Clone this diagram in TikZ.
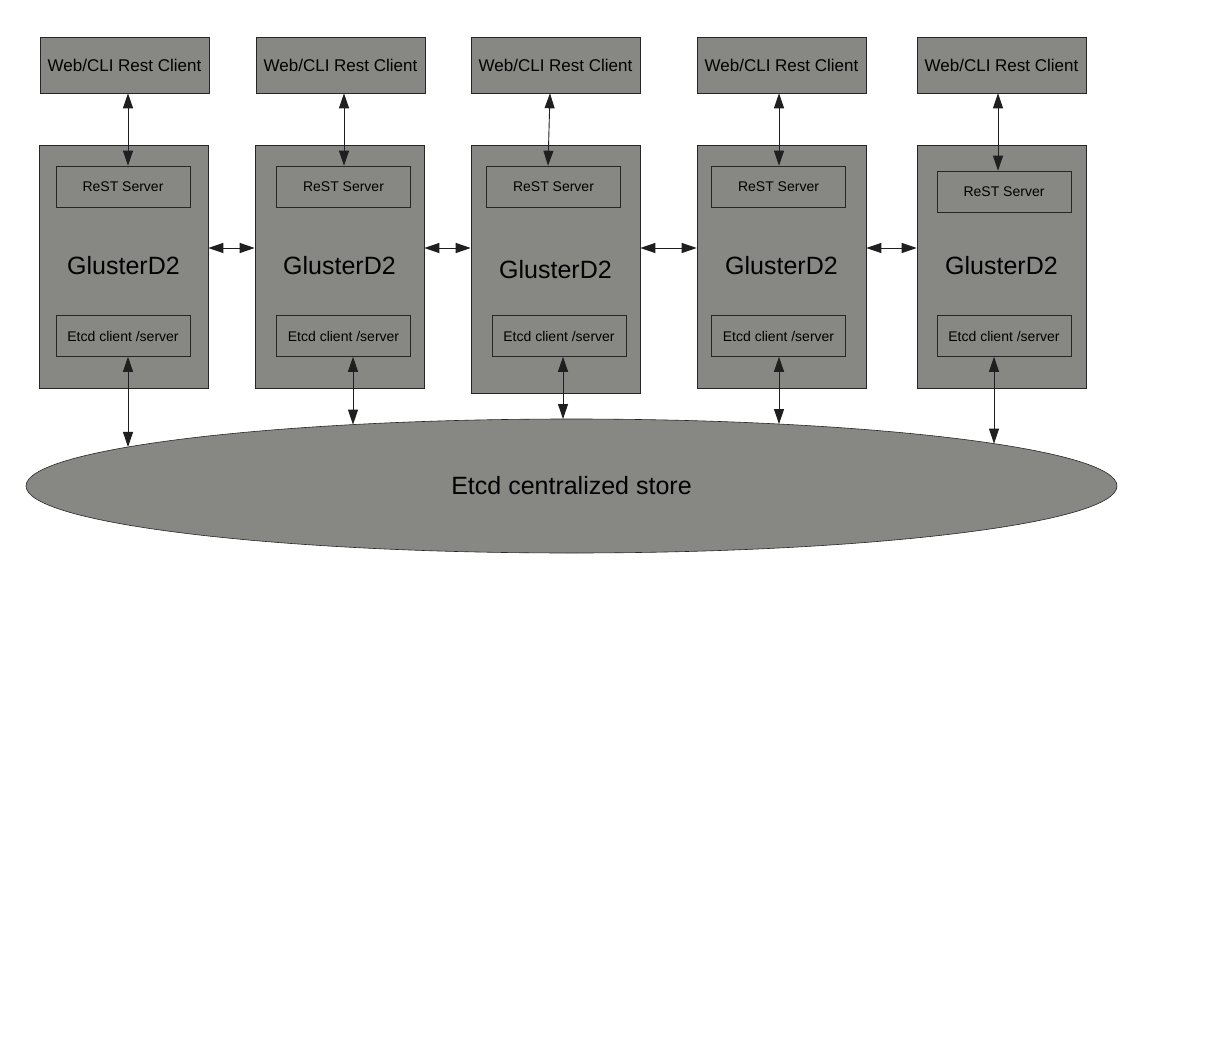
\documentclass[tikz,border=0pt]{standalone}
\usepackage{fontspec}
\setmainfont{Liberation Sans}
\usepackage{tikz}
\usetikzlibrary{arrows.meta,shapes.geometric}
\definecolor{boxgray}{RGB}{135,136,131}

\tikzset{
  box/.style={draw=black!85, fill=boxgray, line width=0.6pt, inner sep=0pt},
  client/.style={box, minimum width=169pt, minimum height=56pt, font=\fontsize{17}{20}\selectfont},
  inner/.style={draw=black!85, line width=0.6pt, inner sep=0pt, minimum width=134pt, minimum height=41pt, font=\fontsize{14}{16}\selectfont},
  link/.style={arrows={Triangle[length=15pt,width=10pt]-Triangle[length=15pt,width=10pt]}, line width=0.9pt, draw=black!88},
}

\begin{document}
\begin{tikzpicture}[x=1pt,y=-1pt]
\useasboundingbox[fill=white] (0,0) rectangle (1206,1056);
% store
\node[box, ellipse, minimum width=1091pt, minimum height=134pt, font=\fontsize{25}{30}\selectfont] (store) at (571.5,486) {Etcd centralized store};
\coordinate (mid) at (0,248);
% columns
\foreach \n/\cx/\gx/\gb/\rx/\ry/\ex/\ly/\ta/\tb/\bx in {
  1/124.5/123.5/388/123/186.5/123/266/128/128/128,
  2/340.5/339.5/388/343.5/186.5/343.5/266/344/344/353,
  3/555.5/555.5/393/553.5/186.5/559/270/550/548/563,
  4/781.5/781.5/388/778.5/186.5/778.5/266/779/779/779,
  5/1001.5/1001.5/388/1004/191.5/1004/266/998/998/994}
{
  \node[client] (cli\n) at (\cx,65) {Web/CLI Rest Client};
  \pgfmathsetmacro\gh{\gb-145}
  \pgfmathsetmacro\gy{(\gb+145)/2}
  \node[box, minimum width=169pt, minimum height=\gh pt] (gd\n) at (\gx,\gy) {};
  \node[font=\fontsize{25}{30}\selectfont] (gl\n) at (\gx,\ly) {GlusterD2};
  \node[inner] (rest\n) at (\rx,\ry) {ReST Server};
  \node[inner] (etcd\n) at (\ex,336) {Etcd client /server};
  \pgfmathsetmacro\yb{486-67*sqrt(1-((\bx-571.5)/545.5)^2)}
  \coordinate (hit\n) at (\bx,\yb);
  \pgfmathsetmacro\da{\ta-\cx}
  \pgfmathsetmacro\db{\tb-\rx}
  \pgfmathsetmacro\dc{\bx-\ex}
  \draw[link] ([xshift=\da pt]cli\n.south) -- ([xshift=\db pt]rest\n.north);
  \draw[link] ([xshift=\dc pt]etcd\n.south) -- (hit\n);
}
% peers
\foreach \a/\b in {1/2,2/3,3/4,4/5}
\draw[link] (gd\a.east |- mid) -- (gd\b.west |- mid);
\end{tikzpicture}
\end{document}
